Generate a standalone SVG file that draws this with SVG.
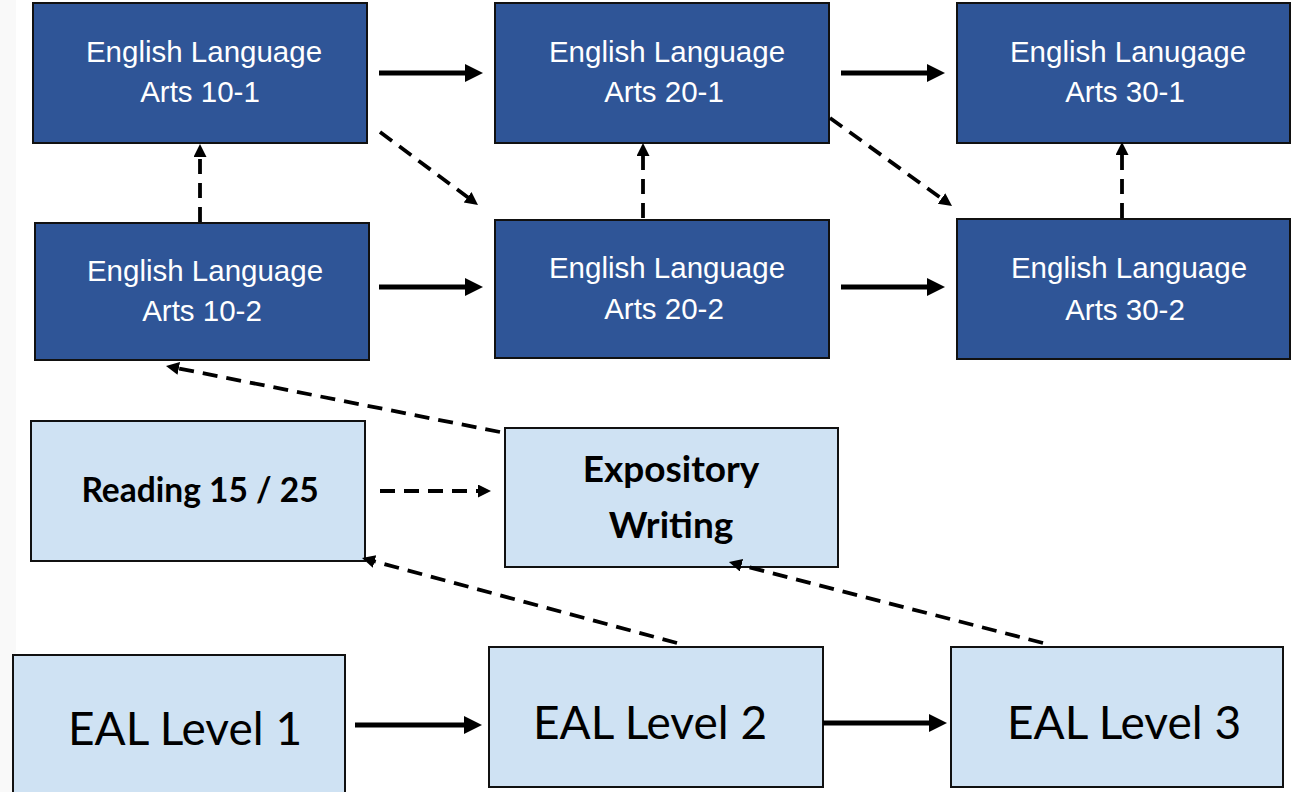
<svg xmlns="http://www.w3.org/2000/svg" width="1292" height="792" viewBox="0 0 1292 792">
<style>
.dark{fill:#2F5597;stroke:#111;stroke-width:2}
.light{fill:#CFE2F3;stroke:#111;stroke-width:2}
.tw{font-family:"Liberation Sans",Arial,sans-serif;font-size:29.5px;fill:#fff;text-anchor:middle}
.tb{font-family:Lato,"Noto Sans",sans-serif;font-weight:bold;fill:#000;text-anchor:middle}
.te{font-family:Lato,"Noto Sans",sans-serif;font-size:46px;fill:#000;text-anchor:middle}
.solid{stroke:#000;stroke-width:5;fill:none;marker-end:url(#ah)}
.dash{stroke:#000;stroke-width:3.8;fill:none;stroke-dasharray:15 9;marker-end:url(#ahd)}
</style>
<defs>
<marker id="ah" markerUnits="userSpaceOnUse" markerWidth="20" markerHeight="20" refX="2" refY="9" orient="auto"><path d="M0,0 L18,9 L0,18 z" fill="#000"/></marker>
<marker id="ahd" markerUnits="userSpaceOnUse" markerWidth="15" markerHeight="15" refX="2" refY="6.5" orient="auto"><path d="M0,0 L13,6.5 L0,13 z" fill="#000"/></marker>
</defs>
<rect x="0" y="0" width="1292" height="792" fill="#fff"/>
<rect x="0" y="0" width="16" height="792" fill="#f9f9f9"/>
<g id="ela10-1"><rect class="dark" x="33" y="3" width="334" height="140"/><text class="tw" x="204" y="62">English Language</text><text class="tw" x="200" y="102">Arts 10-1</text></g>
<g id="ela20-1"><rect class="dark" x="495" y="3" width="334" height="140"/><text class="tw" x="667" y="62">English Language</text><text class="tw" x="664" y="102">Arts 20-1</text></g>
<g id="ela30-1"><rect class="dark" x="957" y="3" width="333" height="140"/><text class="tw" x="1128" y="62">English Lanugage</text><text class="tw" x="1125" y="102">Arts 30-1</text></g>
<g id="ela10-2"><rect class="dark" x="35" y="223" width="334" height="137"/><text class="tw" x="205" y="281">English Language</text><text class="tw" x="202" y="321">Arts 10-2</text></g>
<g id="ela20-2"><rect class="dark" x="495" y="220" width="334" height="138"/><text class="tw" x="667" y="278">English Language</text><text class="tw" x="664" y="319">Arts 20-2</text></g>
<g id="ela30-2"><rect class="dark" x="957" y="219" width="333" height="140"/><text class="tw" x="1129" y="278">English Language</text><text class="tw" x="1125" y="320">Arts 30-2</text></g>
<g id="reading"><rect class="light" x="31" y="421" width="334" height="140"/><text class="tb" x="200" y="502" font-size="33.5">Reading 15 / 25</text></g>
<g id="expository"><rect class="light" x="505" y="428" width="333" height="139"/><text class="tb" x="671" y="482" font-size="37">Expository</text><text class="tb" x="671" y="538" font-size="37">Writing</text></g>
<g id="eal1"><rect class="light" x="13" y="655" width="332" height="145"/><text class="te" x="185" y="745">EAL Level 1</text></g>
<g id="eal2"><rect class="light" x="489" y="647" width="334" height="140"/><text class="te" x="650" y="739">EAL Level 2</text></g>
<g id="eal3"><rect class="light" x="951" y="647" width="332" height="140"/><text class="te" x="1124" y="739">EAL Level 3</text></g>
<g id="connectors">
<line class="solid" x1="379" y1="73" x2="467" y2="73"/>
<line class="solid" x1="379" y1="287" x2="467" y2="287"/>
<line class="solid" x1="841" y1="73" x2="929" y2="73"/>
<line class="solid" x1="841" y1="287" x2="929" y2="287"/>
<line class="solid" x1="355" y1="725" x2="466" y2="725"/>
<line class="solid" x1="823" y1="723" x2="931" y2="723"/>
<line class="dash" x1="200" y1="222" x2="200" y2="155"/>
<line class="dash" x1="643" y1="218" x2="643" y2="154"/>
<line class="dash" x1="1122" y1="218" x2="1122" y2="153"/>
<line class="dash" x1="380" y1="132" x2="469.2" y2="198.4"/>
<line class="dash" x1="830" y1="118" x2="943.1" y2="199.6"/>
<line class="dash" x1="500" y1="432" x2="176.8" y2="368.1"/>
<line class="dash" x1="380" y1="491" x2="480" y2="491"/>
<line class="dash" x1="677" y1="643" x2="372.6" y2="560.9"/>
<line class="dash" x1="1043" y1="643" x2="739.6" y2="564.75"/>
</g>
</svg>
